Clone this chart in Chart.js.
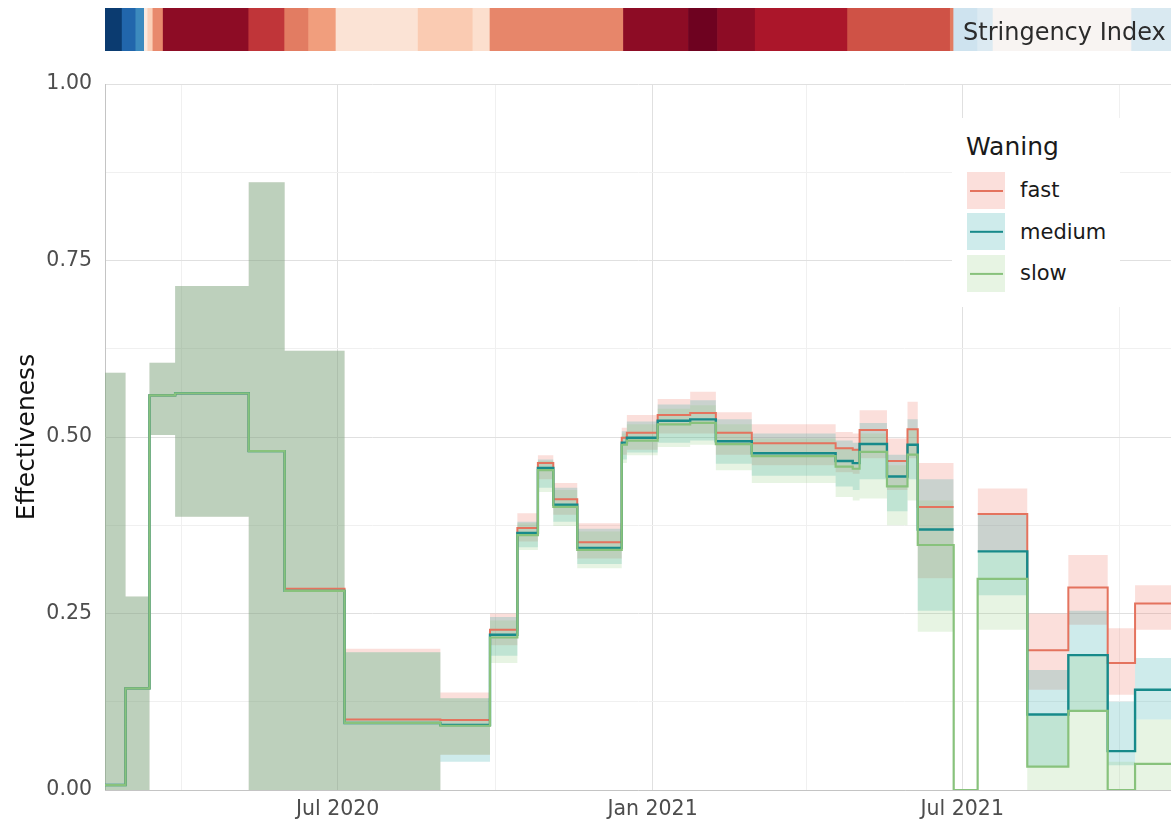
<!DOCTYPE html>
<html>
<head>
<meta charset="utf-8">
<script src="https://cdn.jsdelivr.net/npm/chart.js@4.4.1/dist/chart.umd.min.js"></script>
<style>
  html, body { margin: 0; padding: 0; background: #fff; }
  body { width: 1171px; height: 822px; position: relative; overflow: hidden; font-family: 'DejaVu Sans', sans-serif; }
  canvas { position: absolute; left: 0; top: 0; }
  #stripTitle { position: absolute; left: 963px; top: 20px; font-size: 24px; line-height: 24px; color: #2b2b2b; white-space: nowrap; }
  #legend { position: absolute; left: 952px; top: 118px; width: 168px; height: 189px; background: #fff; }
  #legend .title { position: absolute; left: 14px; top: 16px; font-size: 25px; line-height: 25px; color: #1a1a1a; }
  #legend .key { position: absolute; left: 15px; width: 38px; height: 37px; }
  #legend .key i { position: absolute; left: 3px; right: 2px; top: 50%; transform: translateY(-50%); }
  #legend .lbl { position: absolute; left: 68px; font-size: 21px; line-height: 21px; color: #1a1a1a; }
</style>
</head>
<body>
<canvas id="mainChart" width="1171" height="822"></canvas>
<canvas id="stripChart" width="1171" height="60"></canvas>
<div id="stripTitle">Stringency Index</div>
<div id="legend"><div class="title">Waning</div></div>
<script>
// step start dates shared by all three waning scenarios
const stepDates = ['2020-02-16','2020-02-28','2020-03-13','2020-03-28','2020-05-10','2020-05-31','2020-07-05','2020-08-30',
  '2020-09-28','2020-10-14','2020-10-26','2020-11-04','2020-11-18','2020-12-14','2020-12-17','2021-01-04','2021-01-23',
  '2021-02-07','2021-02-28','2021-04-18','2021-04-28','2021-05-02','2021-05-18','2021-05-30','2021-06-05','2021-06-26',
  '2021-07-10','2021-08-08','2021-09-01','2021-09-24','2021-10-10'];
const endDate = '2021-10-31';

const fastMid = [0.007,0.144,0.559,0.562,0.48,0.285,0.100,0.099,0.227,0.371,0.463,0.412,0.351,0.499,0.506,0.531,0.534,
  0.506,0.491,0.484,0.482,0.510,0.466,0.511,0.401,null,0.391,0.198,0.287,0.180,0.264];
const fastLo = [0,0,0.503,0.387,0,0,0,0.05,0.205,0.352,0.44,0.39,0.328,0.475,0.482,0.505,0.505,
  0.475,0.46,0.45,0.448,0.47,0.425,0.47,0.30,null,0.337,0.142,0.234,0.135,0.227];
const fastHi = [0.591,0.274,0.605,0.714,0.861,0.622,0.2,0.138,0.25,0.392,0.474,0.435,0.378,0.513,0.531,0.554,0.564,
  0.535,0.518,0.507,0.505,0.538,0.498,0.55,0.463,null,0.427,0.25,0.333,0.229,0.29];

const mediumMid = [0.007,0.144,0.559,0.562,0.48,0.282,0.095,0.092,0.220,0.364,0.456,0.404,0.343,0.492,0.499,0.523,0.525,
  0.494,0.477,0.466,0.463,0.490,0.444,0.489,0.369,null,0.338,0.107,0.191,0.055,0.142];
const mediumLo = [0,0,0.503,0.387,0,0,0,0.04,0.19,0.344,0.428,0.38,0.32,0.468,0.478,0.492,0.495,
  0.462,0.445,0.43,0.425,0.44,0.395,0.44,0.254,null,0.276,0.033,0.113,0.035,0.1];
const mediumHi = [0.591,0.274,0.605,0.714,0.861,0.622,0.195,0.13,0.245,0.38,0.468,0.428,0.37,0.508,0.522,0.546,0.552,
  0.525,0.505,0.495,0.492,0.52,0.475,0.525,0.44,null,0.39,0.17,0.254,0.125,0.187];

const slowMid = [0.007,0.144,0.559,0.562,0.48,0.282,0.095,0.091,0.216,0.361,0.453,0.401,0.340,0.489,0.495,0.518,0.520,
  0.490,0.473,0.458,0.455,0.479,0.430,0.475,0.347,0,0.299,0.033,0.112,0,0.037];
const slowLo = [0,0,0.503,0.387,0,0,0,0.05,0.18,0.34,0.422,0.374,0.314,0.463,0.474,0.486,0.489,
  0.453,0.435,0.415,0.41,0.413,0.375,0.41,0.224,null,0.227,0,0,0,0];
const slowHi = [0.591,0.274,0.605,0.714,0.861,0.622,0.195,0.13,0.24,0.378,0.466,0.425,0.366,0.505,0.518,0.54,0.545,
  0.518,0.498,0.485,0.482,0.505,0.46,0.51,0.41,null,0.337,0.106,0.191,0.04,0.1];

// stringency index strip (0-100)
const stringencyStart = ['2020-02-16','2020-02-26','2020-03-05','2020-03-10','2020-03-12','2020-03-15','2020-03-21',
  '2020-05-10','2020-05-31','2020-06-14','2020-06-30','2020-08-17','2020-09-18','2020-09-28','2020-12-15','2021-01-22',
  '2021-02-08','2021-03-02','2021-04-25','2021-06-24','2021-06-26','2021-07-10','2021-07-19','2021-10-08'];
const stringencyLevel = [2,10,18,55,62,74,95,86,76,71,57,63,58.5,74.5,95,99,95,91,82,76,39.5,43,51,42];

const xTickDates = ['2020-04-01','2020-07-01','2020-10-01','2021-01-01','2021-04-01','2021-07-01','2021-10-01'];
const xTickLabels = ['','Jul 2020','','Jan 2021','','Jul 2021',''];
const yTickValues = [0,0.125,0.25,0.375,0.5,0.625,0.75,0.875,1];
const yTickLabels = ['0.00','','0.25','','0.50','','0.75','','1.00'];

const seriesNames = ['fast','medium','slow'];
const lineColors = ['#e4735e','#178a8a','#88c27c'];
const lineWidths = [2,2.4,2.2];
const ribbonColors = ['rgba(238,118,98,0.23)','rgba(30,165,165,0.22)','rgba(135,198,115,0.2)'];

const majorGrid = '#e0e0e0';
const minorGrid = '#f0f0f0';
const font = 'DejaVu Sans';

const toDay = s => (Date.UTC(+s.slice(0, 4), +s.slice(5, 7) - 1, +s.slice(8, 10)) - Date.UTC(2020, 0, 1)) / 86400000;
const xMin = toDay(stepDates[0]);
const xMax = toDay(endDate);

// turn step values into points for a stepped line, closing each run before a gap
function stepPoints(values) {
    const pts = [];
    for (let i = 0; i < stepDates.length; i++) {
        const x = toDay(stepDates[i]);
        if (values[i] === null) {
            if (i > 0 && values[i - 1] !== null) pts.push({x: x, y: values[i - 1]});
            pts.push({x: x, y: null});
        } else {
            pts.push({x: x, y: values[i]});
        }
    }
    pts.push({x: xMax, y: values[values.length - 1]});
    return pts;
}

const mids = [fastMid, mediumMid, slowMid];
const los = [fastLo, mediumLo, slowLo];
const his = [fastHi, mediumHi, slowHi];

const datasets = [];
seriesNames.forEach((name, k) => {
    const base = {stepped: true, pointRadius: 0, spanGaps: false, borderWidth: 0, borderColor: 'rgba(0,0,0,0)'};
    datasets.push(Object.assign({}, base, {label: name + ' lo', data: stepPoints(los[k]), fill: false, order: 20 - k}));
    datasets.push(Object.assign({}, base, {label: name + ' hi', data: stepPoints(his[k]), fill: '-1',
        backgroundColor: ribbonColors[k], order: 20 - k}));
});
seriesNames.forEach((name, k) => {
    datasets.push({
        label: name, data: stepPoints(mids[k]), stepped: true, fill: false, pointRadius: 0,
        borderColor: lineColors[k], borderWidth: lineWidths[k], order: 2 - k
    });
});

new Chart(document.getElementById('mainChart'), {
    type: 'line',
    data: {datasets: datasets},
    options: {
        responsive: false,
        animation: false,
        events: [],
        layout: {padding: {top: 84, left: 0, right: 0, bottom: 0}},
        scales: {
            x: {
                type: 'linear', min: xMin, max: xMax,
                afterBuildTicks: s => { s.ticks = xTickDates.map(d => ({value: toDay(d)})); },
                afterFit: s => { s.height = 32; s.paddingLeft = 0; s.paddingRight = 0; },
                ticks: {
                    autoSkip: false, maxRotation: 0, padding: 7, color: '#4d4d4d',
                    font: {family: font, size: 20.5},
                    callback: (v, i) => xTickLabels[i]
                },
                grid: {drawTicks: false, color: c => (c.index !== undefined && xTickLabels[c.index]) ? majorGrid : minorGrid},
                border: {display: true, color: '#c4c4c4'}
            },
            y: {
                min: 0, max: 1,
                afterBuildTicks: s => { s.ticks = yTickValues.map(v => ({value: v})); },
                afterFit: s => { s.width = 105; s.paddingTop = 0; s.paddingBottom = 0; },
                ticks: {
                    padding: 13, color: '#4d4d4d', font: {family: font, size: 20.5},
                    callback: (v, i) => yTickLabels[i]
                },
                grid: {drawTicks: false, color: c => (c.index !== undefined && yTickLabels[c.index]) ? majorGrid : minorGrid},
                border: {display: true, color: '#c4c4c4'},
                title: {display: true, text: 'Effectiveness', color: '#111', font: {family: font, size: 25}, padding: {top: 12, bottom: 0}}
            }
        },
        plugins: {legend: {display: false}, tooltip: {enabled: false}}
    }
});

// RdBu palette, blue = low stringency, red = high
const rdbu = ['#053061','#2166ac','#4393c3','#92c5de','#d1e5f0','#f7f7f7','#fddbc7','#f4a582','#d6604d','#b2182b','#67001f'];
function rdbuColor(v) {
    const t = Math.max(0, Math.min(100, v)) / 10;
    const i = Math.min(9, Math.floor(t));
    const f = t - i;
    const a = rdbu[i], b = rdbu[i + 1];
    const ch = (h, o) => parseInt(h.slice(o, o + 2), 16);
    const mix = o => Math.round(ch(a, o) + (ch(b, o) - ch(a, o)) * f);
    return 'rgb(' + mix(1) + ',' + mix(3) + ',' + mix(5) + ')';
}

new Chart(document.getElementById('stripChart'), {
    type: 'bar',
    data: {
        labels: ['Stringency Index'],
        datasets: [{
            data: stringencyStart.map((d, i) => ({
                x: [toDay(d), toDay(stringencyStart[i + 1] || endDate)], y: 'Stringency Index'
            })),
            backgroundColor: stringencyLevel.map(rdbuColor),
            borderWidth: 0,
            barPercentage: 1,
            categoryPercentage: 1
        }]
    },
    options: {
        indexAxis: 'y',
        responsive: false,
        animation: false,
        events: [],
        layout: {padding: {left: 105, right: 0, top: 8, bottom: 9}},
        scales: {
            x: {type: 'linear', min: xMin, max: xMax, display: false},
            y: {display: false}
        },
        plugins: {legend: {display: false}, tooltip: {enabled: false}}
    }
});

// legend keys: ribbon square with the line across it
const legend = document.getElementById('legend');
const keyTops = [54, 95, 137];
const labelTops = [62, 104, 145];
seriesNames.forEach((name, k) => {
    const key = document.createElement('div');
    key.className = 'key';
    key.style.top = keyTops[k] + 'px';
    key.style.background = ribbonColors[k];
    const ln = document.createElement('i');
    ln.style.height = lineWidths[k] + 'px';
    ln.style.background = lineColors[k];
    key.appendChild(ln);
    legend.appendChild(key);
    const lbl = document.createElement('div');
    lbl.className = 'lbl';
    lbl.style.top = labelTops[k] + 'px';
    lbl.textContent = name;
    legend.appendChild(lbl);
});
</script>
</body>
</html>
